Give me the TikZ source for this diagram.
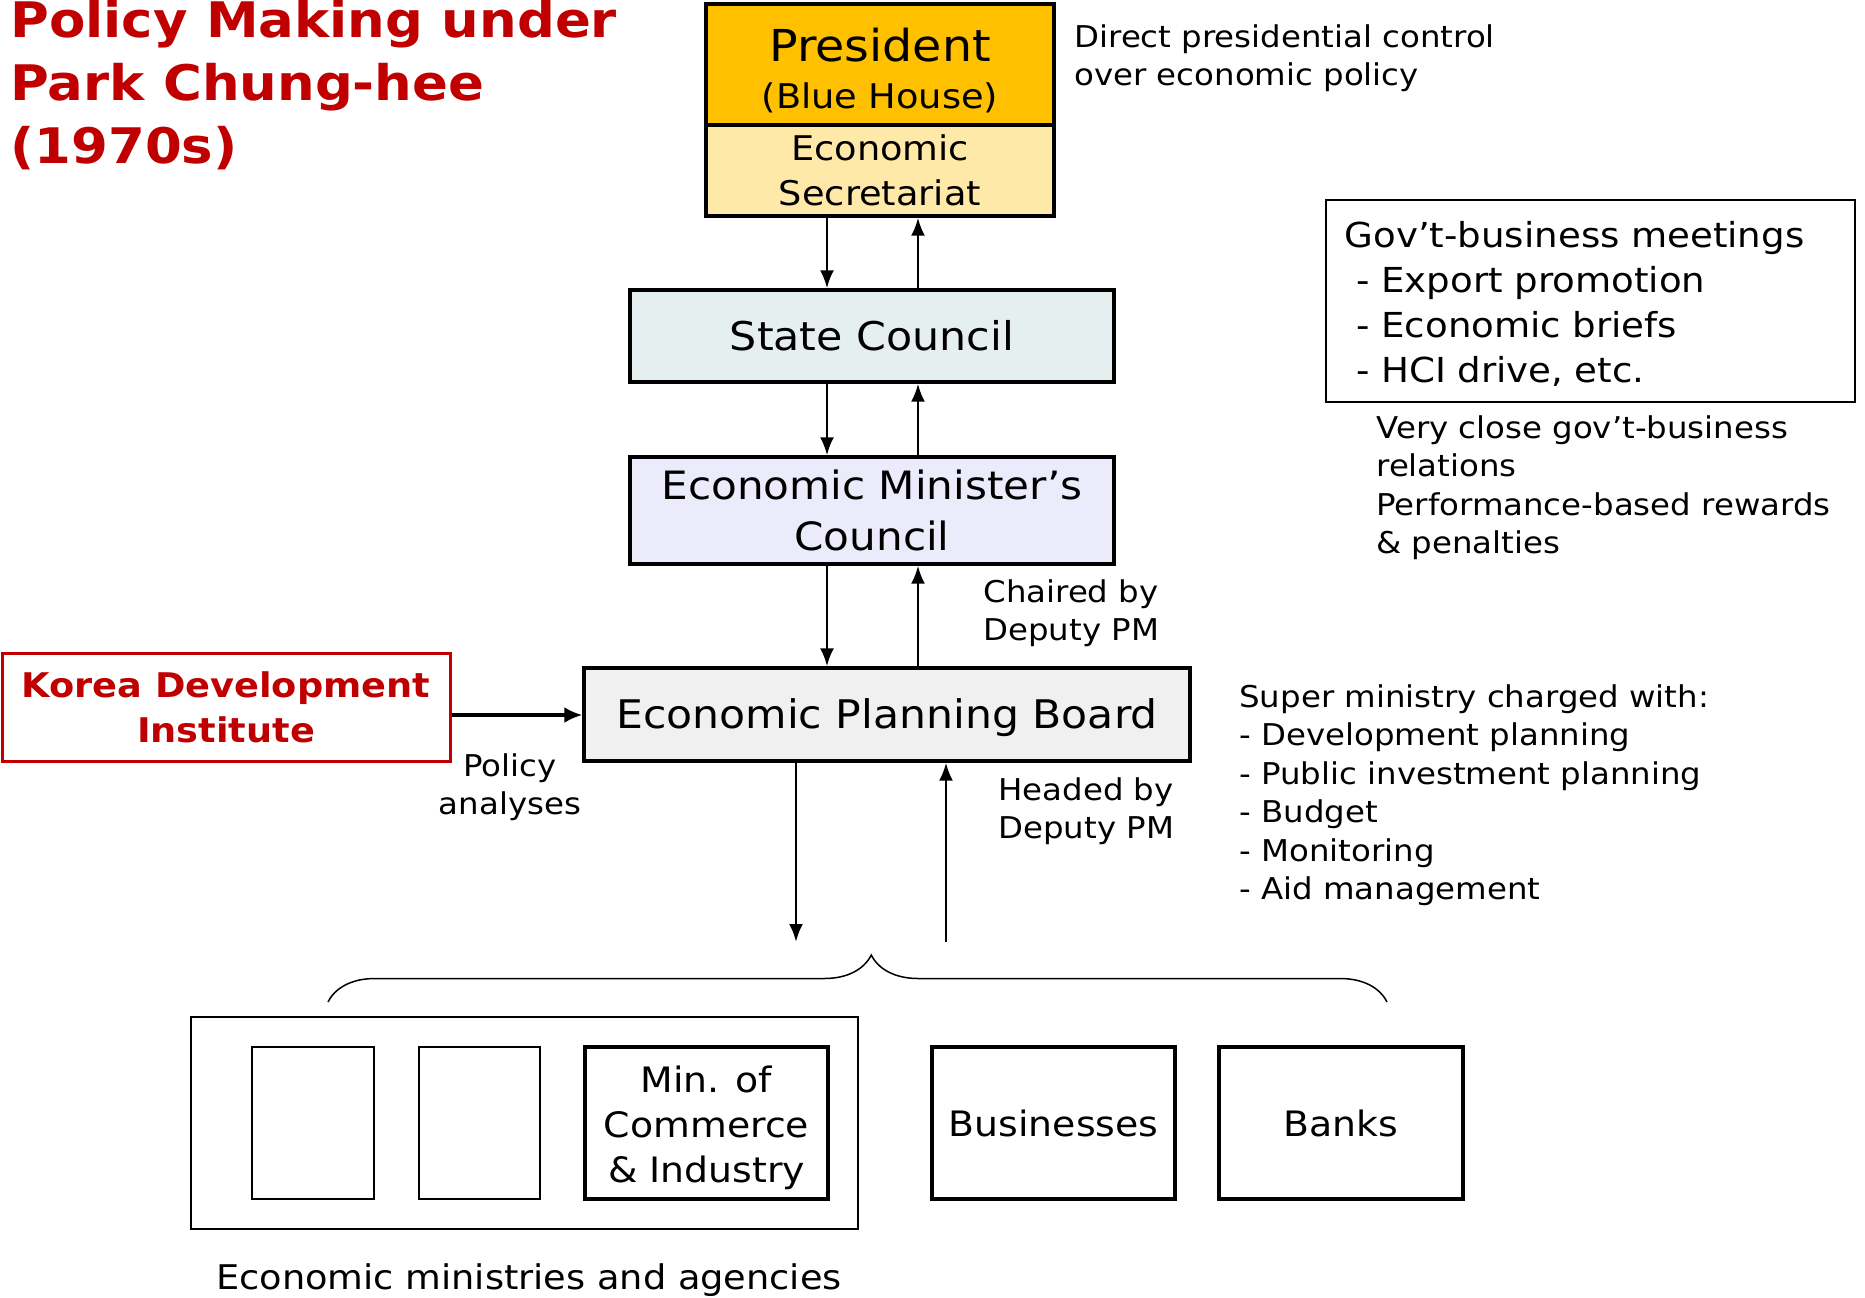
\documentclass[tikz,border=0pt]{standalone}
\usepackage{fontspec}
\setmainfont[FakeStretch=1.08]{DejaVu Sans}
\usepackage{tikz}
\usetikzlibrary{shapes,arrows.meta,decorations.pathreplacing}

\definecolor{DarkRed}{HTML}{C00000}
\definecolor{PresGold}{HTML}{FFC000}
\definecolor{SecYellow}{HTML}{FFE9A9}
\definecolor{CouncilGray}{HTML}{E6EFEF}
\definecolor{MinLilac}{HTML}{EBEBFC}
\definecolor{BoardGray}{HTML}{F0F0F0}

\begin{document}
\begin{tikzpicture}[x=0.5pt, y=-0.5pt]
			\tikzstyle{Box}		= [rectangle, draw, line width=1.6pt, inner sep=0pt, align=center]
			\tikzstyle{Thin}	= [line width=0.75pt]
			\tikzstyle{Link}	= [line width=1.4pt, -{Latex[length=9pt, width=7pt]}]
			\tikzstyle{Note}	= [inner sep=0pt, align=left, font=\fontsize{15}{19.25}\selectfont]
			
			\useasboundingbox (0,0) rectangle (1865,1297);
			
			\node (title) at (10,0) [Note, anchor=north west, text=DarkRed, font=\bfseries\fontsize{24.5}{31.5}\selectfont] {Policy Making under\\Park Chung-hee\\(1970s)};
			
			\node (pres) at (880,64.5) [Box, fill=PresGold, minimum width=174pt, minimum height=60.5pt, font=\fontsize{17}{23.5}\selectfont] {{\fontsize{22}{23.5}\selectfont\rule{0pt}{22.5pt}President}\\(Blue House)};
			\node (sec) at (880,170.5) [Box, fill=SecYellow, minimum width=174pt, minimum height=45.5pt, font=\fontsize{17}{22.5}\selectfont] {Economic\\Secretariat};
			\node (sc) at (872,336) [Box, fill=CouncilGray, minimum width=242pt, minimum height=46pt, font=\fontsize{19.8}{24}\selectfont] {State Council};
			\node (emc) at (872,510.5) [Box, fill=MinLilac, minimum width=242pt, minimum height=53.5pt, font=\fontsize{19.5}{25.5}\selectfont] {Economic Minister’s\\Council};
			\node (epb) at (887,714.5) [Box, fill=BoardGray, minimum width=303pt, minimum height=46.5pt, font=\fontsize{19.7}{24}\selectfont] {\rule{0pt}{18pt}Economic Planning Board};
			\node (kdi) at (226,707) [Box, draw=DarkRed, line width=1.5pt, text=DarkRed, minimum width=224pt, minimum height=54pt, font=\bfseries\fontsize{17}{22.5}\selectfont] {Korea Development\\Institute};
			
			\node (gbm) at (1590.5,301) [Box, line width=1pt, minimum width=264.5pt, minimum height=101pt, text width=246pt, align=left, font=\fontsize{17.2}{22.5}\selectfont] {\rule{0pt}{16pt}Gov’t-business meetings\\\hspace*{6pt}- Export promotion\\\hspace*{6pt}- Economic briefs\\\hspace*{6pt}- HCI drive, etc.};
			
			\node (mins) at (524.5,1123) [Box, Thin, minimum width=333.5pt, minimum height=106pt] {};
			\node (m1) at (313,1123) [Box, Thin, minimum width=61pt, minimum height=76pt] {};
			\node (m2) at (479.5,1123) [Box, Thin, minimum width=60.5pt, minimum height=76pt] {};
			\node (mci) at (706.5,1123) [Box, minimum width=121.5pt, minimum height=76pt, font=\fontsize{17.5}{22.5}\selectfont] {\rule{0pt}{18pt}Min. of\\Commerce\\\& Industry};
			\node (bus) at (1053.5,1123) [Box, minimum width=121.5pt, minimum height=76pt, font=\fontsize{17.5}{22.5}\selectfont] {Businesses};
			\node (bank) at (1341,1123) [Box, minimum width=122pt, minimum height=76pt, font=\fontsize{17.5}{22.5}\selectfont] {Banks};
			
			\node (ctrl) at (1074,24) [Note, anchor=north west] {Direct presidential control\\over economic policy};
			\node (pa) at (510,753) [Note, anchor=north, align=center] {Policy\\analyses};
			\node (chair) at (983,579) [Note, anchor=north west] {Chaired by\\Deputy PM};
			\node (head) at (998,777) [Note, anchor=north west] {Headed by\\Deputy PM};
			\node (rel) at (1376,415) [Note, anchor=north west] {Very close gov’t-business\\relations\\Performance-based rewards\\\& penalties};
			\node (sup) at (1239,684) [Note, anchor=north west] {Super ministry charged with:\\- Development planning\\- Public investment planning\\- Budget\\- Monitoring\\- Aid management};
			\node (emag) at (529,1263) [Note, anchor=north, font=\fontsize{17}{20}\selectfont] {Economic ministries and agencies};
			
			% arrows up and down the chain
			\coordinate (dn) at (827,0);
			\coordinate (up) at (918,0);
			\draw [Link] (sec.south -| dn) -- (sc.north -| dn);
			\draw [Link] (sc.north -| up) -- (sec.south -| up);
			\draw [Link] (sc.south -| dn) -- (emc.north -| dn);
			\draw [Link] (emc.north -| up) -- (sc.south -| up);
			\draw [Link] (emc.south -| dn) -- (epb.north -| dn);
			\draw [Link] (epb.north -| up) -- (emc.south -| up);
			
			\coordinate (bdn) at (796,942);
			\coordinate (bup) at (946,942);
			\draw [Link] (epb.south -| bdn) -- (bdn);
			\draw [Link] (bup) -- (epb.south -| bup);
			
			\coordinate (kdiy) at (0,715);
			\draw [Link, line width=2.2pt, -{Latex[length=9pt, width=8pt]}] (kdi.east |- kdiy) -- (epb.west |- kdiy);
			
			% brace over ministries, businesses, banks
			\coordinate (bl) at (328,1002);
			\coordinate (br) at (1387,1002);
			\draw [Thin, decorate, decoration={brace, amplitude=23.5pt, aspect=0.513}] (bl) -- (br);
		\end{tikzpicture}
\end{document}
